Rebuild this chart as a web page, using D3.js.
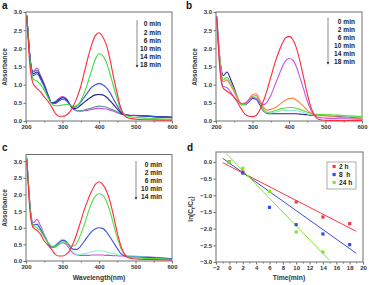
<!DOCTYPE html>
<html>
<head>
<meta charset="utf-8">
<script src="https://cdn.jsdelivr.net/npm/d3@7"></script>
<style>
  body { margin: 0; background: #fff; }
  svg { display: block; font-family: "Liberation Sans", Arial, sans-serif; font-weight: bold; }
</style>
</head>
<body>
<script>
// ---------- data ----------
// wavelength grid (nm) shared by panels a, b, c
const wavelengths = [202, 205, 210, 215, 220, 230, 240, 250, 260, 270, 280, 290, 300, 310, 320, 330, 340, 350, 360, 370, 380, 390, 400, 410, 420, 430, 440, 450, 460, 470, 480, 500, 550, 600];

// panel a
const aLabels = ["0 min", "2 min", "6 min", "10 min", "14 min", "18 min"];
const aColors = ["#ff2a3c", "#3ddc3a", "#3c50e6", "#1c1c8c", "#5f8f96", "#c44ae0"];
const a0 = [2.88, 2.4, 1.6, 1.2, 1.02, 0.9, 0.8, 0.66, 0.55, 0.39, 0.22, 0.13, 0.13, 0.16, 0.25, 0.42, 0.65, 0.95, 1.35, 1.75, 2.1, 2.35, 2.43, 2.32, 2.1, 1.7, 1.2, 0.75, 0.35, 0.15, 0.08, 0.05, 0.03, 0.02];
const a2 = [2.9, 2.5, 1.8, 1.35, 1.15, 1.1, 1.0, 0.85, 0.65, 0.48, 0.42, 0.42, 0.44, 0.46, 0.44, 0.4, 0.42, 0.55, 0.78, 1.08, 1.4, 1.7, 1.85, 1.8, 1.62, 1.3, 0.95, 0.6, 0.3, 0.18, 0.13, 0.1, 0.07, 0.05];
const a6 = [2.9, 2.5, 1.85, 1.4, 1.25, 1.3, 1.15, 0.95, 0.72, 0.5, 0.48, 0.55, 0.6, 0.56, 0.46, 0.38, 0.42, 0.52, 0.66, 0.8, 0.93, 1.0, 1.03, 1.0, 0.92, 0.78, 0.6, 0.42, 0.25, 0.18, 0.16, 0.15, 0.12, 0.09];
const a10 = [2.9, 2.5, 1.85, 1.42, 1.3, 1.35, 1.2, 0.98, 0.72, 0.5, 0.5, 0.58, 0.64, 0.6, 0.46, 0.34, 0.36, 0.44, 0.52, 0.6, 0.67, 0.72, 0.73, 0.72, 0.66, 0.56, 0.45, 0.33, 0.22, 0.17, 0.16, 0.15, 0.12, 0.1];
const a14 = [2.9, 2.5, 1.85, 1.45, 1.35, 1.4, 1.22, 1.0, 0.72, 0.5, 0.52, 0.6, 0.65, 0.6, 0.45, 0.33, 0.28, 0.28, 0.3, 0.33, 0.36, 0.39, 0.41, 0.4, 0.38, 0.34, 0.3, 0.25, 0.2, 0.17, 0.16, 0.15, 0.12, 0.1];
const a18 = [2.9, 2.5, 1.85, 1.45, 1.37, 1.46, 1.25, 1.02, 0.72, 0.5, 0.54, 0.62, 0.67, 0.62, 0.46, 0.33, 0.28, 0.27, 0.28, 0.3, 0.32, 0.34, 0.35, 0.34, 0.33, 0.3, 0.27, 0.23, 0.19, 0.17, 0.16, 0.16, 0.13, 0.11];

// panel b
const bLabels = ["0 min", "2 min", "6 min", "10 min", "14 min", "18 min"];
const bColors = ["#ff2a3c", "#c455f0", "#ff8040", "#5edc3c", "#8ee6cc", "#2c1ea0"];
const b0 = [2.85, 2.3, 1.5, 1.05, 0.9, 0.82, 0.75, 0.65, 0.5, 0.32, 0.18, 0.13, 0.12, 0.15, 0.3, 0.55, 0.85, 1.2, 1.55, 1.85, 2.1, 2.28, 2.33, 2.25, 2.02, 1.65, 1.2, 0.75, 0.38, 0.15, 0.05, 0.02, 0.01, 0.01];
const b2 = [2.85, 2.35, 1.55, 1.1, 0.95, 0.92, 0.8, 0.65, 0.55, 0.48, 0.48, 0.58, 0.65, 0.62, 0.5, 0.45, 0.52, 0.7, 0.95, 1.2, 1.45, 1.65, 1.72, 1.68, 1.5, 1.2, 0.88, 0.55, 0.3, 0.15, 0.1, 0.08, 0.06, 0.05];
const b6 = [2.85, 2.4, 1.7, 1.2, 1.08, 1.12, 0.98, 0.8, 0.6, 0.48, 0.5, 0.6, 0.72, 0.75, 0.58, 0.38, 0.3, 0.32, 0.36, 0.42, 0.5, 0.57, 0.62, 0.63, 0.58, 0.5, 0.4, 0.3, 0.22, 0.17, 0.15, 0.14, 0.1, 0.07];
const b10 = [2.85, 2.4, 1.75, 1.3, 1.15, 1.2, 1.05, 0.85, 0.62, 0.45, 0.47, 0.56, 0.68, 0.7, 0.52, 0.32, 0.24, 0.25, 0.28, 0.31, 0.34, 0.36, 0.37, 0.37, 0.35, 0.32, 0.28, 0.24, 0.21, 0.19, 0.18, 0.18, 0.15, 0.12];
const b14 = [2.85, 2.4, 1.75, 1.3, 1.12, 1.15, 1.02, 0.83, 0.6, 0.45, 0.46, 0.55, 0.65, 0.66, 0.5, 0.3, 0.22, 0.22, 0.24, 0.26, 0.28, 0.29, 0.29, 0.29, 0.28, 0.26, 0.23, 0.2, 0.18, 0.17, 0.17, 0.16, 0.14, 0.1];
const b18 = [2.88, 2.45, 1.8, 1.4, 1.25, 1.35, 1.15, 0.9, 0.62, 0.45, 0.45, 0.53, 0.62, 0.6, 0.45, 0.28, 0.21, 0.2, 0.2, 0.2, 0.2, 0.2, 0.2, 0.2, 0.2, 0.19, 0.18, 0.17, 0.16, 0.16, 0.16, 0.15, 0.11, 0.08];

// panel c
const cLabels = ["0 min", "2 min", "6 min", "10 min", "14 min"];
const cColors = ["#ff2a3c", "#4ee03a", "#3c50e0", "#84f0c8", "#cc48e4"];
const c0 = [3.05, 2.5, 1.6, 1.15, 1.0, 0.92, 0.8, 0.6, 0.48, 0.35, 0.2, 0.15, 0.15, 0.2, 0.32, 0.55, 0.85, 1.2, 1.55, 1.85, 2.1, 2.3, 2.38, 2.3, 2.12, 1.8, 1.35, 0.85, 0.45, 0.2, 0.1, 0.06, 0.04, 0.03];
const c2 = [3.1, 2.6, 1.75, 1.2, 1.05, 1.0, 0.9, 0.72, 0.55, 0.45, 0.42, 0.5, 0.58, 0.55, 0.45, 0.45, 0.55, 0.8, 1.1, 1.45, 1.75, 1.95, 2.02, 1.98, 1.8, 1.5, 1.1, 0.7, 0.38, 0.2, 0.13, 0.1, 0.07, 0.05];
const c6 = [3.1, 2.6, 1.8, 1.25, 1.08, 1.1, 0.95, 0.75, 0.55, 0.42, 0.45, 0.55, 0.62, 0.58, 0.45, 0.35, 0.35, 0.45, 0.6, 0.75, 0.88, 0.97, 1.0, 0.98, 0.88, 0.72, 0.55, 0.38, 0.22, 0.15, 0.13, 0.12, 0.1, 0.07];
const c10 = [3.1, 2.6, 1.8, 1.25, 1.08, 1.12, 0.98, 0.78, 0.56, 0.42, 0.48, 0.58, 0.66, 0.6, 0.42, 0.25, 0.2, 0.2, 0.22, 0.25, 0.28, 0.3, 0.31, 0.3, 0.28, 0.25, 0.22, 0.19, 0.17, 0.16, 0.15, 0.14, 0.1, 0.06];
const c14 = [3.1, 2.6, 1.8, 1.3, 1.15, 1.25, 1.05, 0.8, 0.56, 0.4, 0.42, 0.5, 0.55, 0.5, 0.36, 0.22, 0.18, 0.17, 0.17, 0.17, 0.18, 0.18, 0.18, 0.18, 0.17, 0.17, 0.16, 0.16, 0.15, 0.15, 0.15, 0.14, 0.11, 0.07];

// panel d (kinetics)
const dLabels = ["2 h", "8  h", "24 h"];
const dColors = ["#ff3446", "#3a4ee0", "#7ee33c"];
const dTime2 = [0, 2, 10, 14, 18];
const dVal2 = [0.0, -0.3, -1.2, -1.65, -1.85];
const dTime8 = [0, 2, 6, 10, 14, 18];
const dVal8 = [0.0, -0.33, -1.36, -1.88, -2.16, -2.48];
const dTime24 = [0, 2, 6, 10, 14];
const dVal24 = [0.0, -0.19, -0.88, -2.1, -2.7];
// fitted line ends
const dFitT2 = [-1, 19], dFitV2 = [-0.02, -2.08];
const dFitT8 = [-1, 19], dFitV8 = [0.11, -2.74];
const dFitT24 = [-0.5, 15], dFitV24 = [0.26, -2.95];
// ----------

const W = 369, H = 285;
const axisCol = "#707070";
const textCol = "#333";

const svg = d3.select("body").append("svg").attr("width", W).attr("height", H);

// generic framed panel
let clipId = 0;
const makePanel = (o) => {
  const x = d3.scaleLinear().domain(o.xDomain).range([o.box.l, o.box.r]);
  const y = d3.scaleLinear().domain(o.yDomain).range([o.box.b, o.box.t]);
  const g = svg.append("g");

  // minor ticks
  if (o.xMinor) {
    g.append("g").attr("transform", `translate(0,${o.box.b})`)
      .call(d3.axisBottom(x).tickValues(o.xMinor).tickSize(1.5).tickFormat(""))
      .call((s) => s.select(".domain").remove())
      .call((s) => s.selectAll("line").attr("stroke", axisCol));
  }
  const xa = g.append("g").attr("transform", `translate(0,${o.box.b})`)
    .call(d3.axisBottom(x).tickValues(o.xTicks).tickSize(2.5).tickPadding(1.5).tickFormat(o.xFormat));
  const ya = g.append("g").attr("transform", `translate(${o.box.l},0)`)
    .call(d3.axisLeft(y).tickValues(o.yTicks).tickSize(2.5).tickPadding(1.5).tickFormat(o.yFormat));
  [xa, ya].forEach((a) => {
    a.select(".domain").remove();
    a.selectAll("line").attr("stroke", axisCol);
    a.selectAll("text").attr("font-size", 6).attr("fill", textCol).attr("font-family", null);
  });

  // frame
  g.append("rect")
    .attr("x", o.box.l).attr("y", o.box.t)
    .attr("width", o.box.r - o.box.l).attr("height", o.box.b - o.box.t)
    .attr("fill", "none").attr("stroke", axisCol).attr("stroke-width", 1);

  // clip for data
  clipId += 1;
  svg.append("clipPath").attr("id", `clip${clipId}`)
    .append("rect")
    .attr("x", o.box.l).attr("y", o.box.t)
    .attr("width", o.box.r - o.box.l).attr("height", o.box.b - o.box.t);
  const plot = g.append("g").attr("clip-path", `url(#clip${clipId})`);

  // panel letter
  svg.append("text").text(o.letter)
    .attr("x", o.letterPos[0]).attr("y", o.letterPos[1])
    .attr("font-size", 10).attr("fill", "#111");

  return { x, y, g, plot };
};

const yTitle = (x, y, txt) => {
  svg.append("text")
    .attr("transform", `translate(${x},${y}) rotate(-90)`)
    .attr("text-anchor", "middle")
    .attr("font-size", 6.5)
    .attr("fill", textCol)
    .text(txt);
};

const xTitle = (x, y, txt) => {
  svg.append("text")
    .attr("x", x).attr("y", y)
    .attr("text-anchor", "middle")
    .attr("font-size", 6.8)
    .attr("fill", textCol)
    .text(txt);
};

// spectra panel
const specPanel = (o, series, colors, labels, leg) => {
  const p = makePanel(o);
  const line = d3.line()
    .x((d) => p.x(d[0]))
    .y((d) => p.y(d[1]))
    .curve(d3.curveMonotoneX);

  // draw last series first so red (0 min) stays on top
  series.slice().reverse().forEach((s, k) => {
    const i = series.length - 1 - k;
    p.plot.append("path")
      .datum(wavelengths.map((w, j) => [w, s[j]]))
      .attr("d", line)
      .attr("fill", "none")
      .attr("stroke", colors[i])
      .attr("stroke-width", 1.1);
  });

  // legend: arrow + labels
  const lg = svg.append("g");
  const yLast = leg.y0 + leg.dy * (labels.length - 1);
  lg.append("line")
    .attr("x1", leg.ax).attr("x2", leg.ax)
    .attr("y1", leg.y0 - 4).attr("y2", yLast + 2)
    .attr("stroke", "#8a8a8a").attr("stroke-width", 1);
  lg.append("path")
    .attr("d", `M${leg.ax - 1.3},${yLast} L${leg.ax + 1.3},${yLast} L${leg.ax},${yLast + 2.8}Z`)
    .attr("fill", "#333");
  lg.selectAll("text")
    .data(labels)
    .enter()
    .append("text")
    .text((d) => d)
    .attr("x", leg.tx)
    .attr("y", (d, i) => leg.y0 + i * leg.dy)
    .attr("dy", "0.35em")
    .attr("text-anchor", "end")
    .attr("font-size", 6.6)
    .attr("fill", "#222");
  return p;
};

const wlTicks = [200, 300, 400, 500, 600];
const wlMinor = [250, 350, 450, 550];
const fmtInt = d3.format("d");
const fmt1 = d3.format(".1f");

// ---------- panel a ----------
specPanel(
  { box: { l: 26, r: 172, t: 12, b: 121 }, xDomain: [200, 600], yDomain: [0, 3],
    xTicks: wlTicks, xMinor: wlMinor, yTicks: d3.range(0, 3.01, 0.5),
    xFormat: fmtInt, yFormat: fmt1, letter: "a", letterPos: [2, 9] },
  [a0, a2, a6, a10, a14, a18], aColors, aLabels,
  { ax: 137, tx: 161, y0: 24, dy: 8.2 }
);
yTitle(7, 67, "Absorbance");

// ---------- panel b ----------
specPanel(
  { box: { l: 216, r: 362, t: 12, b: 121 }, xDomain: [200, 600], yDomain: [0, 3],
    xTicks: wlTicks, xMinor: wlMinor, yTicks: d3.range(0, 3.01, 0.5),
    xFormat: fmtInt, yFormat: fmt1, letter: "b", letterPos: [186, 9] },
  [b0, b2, b6, b10, b14, b18], bColors, bLabels,
  { ax: 328, tx: 355, y0: 21.5, dy: 8.1 }
);
yTitle(197, 67, "Absorbance");

// ---------- panel c ----------
specPanel(
  { box: { l: 26, r: 172, t: 154.5, b: 261 }, xDomain: [200, 600], yDomain: [0, 3.2],
    xTicks: wlTicks, xMinor: wlMinor, yTicks: d3.range(0, 3.01, 0.5),
    xFormat: fmtInt, yFormat: fmt1, letter: "c", letterPos: [2, 151] },
  [c0, c2, c6, c10, c14], cColors, cLabels,
  { ax: 136, tx: 162, y0: 165, dy: 8 }
);
yTitle(7, 208, "Absorbance");
xTitle(99, 280, "Wavelength(nm)");

// ---------- panel d ----------
const pd = makePanel({
  box: { l: 216, r: 363, t: 152, b: 262 }, xDomain: [-2, 20], yDomain: [-3, 0.3],
  xTicks: d3.range(-2, 20.01, 2), xMinor: d3.range(-1, 20, 2), yTicks: d3.range(-3, 0.01, 0.5),
  xFormat: fmtInt, yFormat: fmt1, letter: "d", letterPos: [187, 151],
});

const fits = [[dFitT2, dFitV2], [dFitT8, dFitV8], [dFitT24, dFitV24]];
const pts = [[dTime2, dVal2], [dTime8, dVal8], [dTime24, dVal24]];

fits.forEach((f, i) => {
  pd.plot.append("line")
    .attr("x1", pd.x(f[0][0])).attr("y1", pd.y(f[1][0]))
    .attr("x2", pd.x(f[0][1])).attr("y2", pd.y(f[1][1]))
    .attr("stroke", dColors[i]).attr("stroke-width", 1);
});

pts.forEach((p, i) => {
  pd.plot.append("g")
    .selectAll("rect")
    .data(p[0].map((t, j) => [t, p[1][j]]))
    .enter()
    .append("rect")
    .attr("x", (d) => pd.x(d[0]) - 1.6)
    .attr("y", (d) => pd.y(d[1]) - 1.6)
    .attr("width", 3.2).attr("height", 3.2)
    .attr("fill", dColors[i]);
});

// legend d
const legD = svg.append("g");
legD.append("rect")
  .attr("x", 327).attr("y", 162).attr("width", 29).attr("height", 27)
  .attr("fill", "#fff").attr("stroke", "#9a9a9a").attr("stroke-width", 0.8);
dLabels.forEach((lab, i) => {
  const yy = 166.5 + i * 8;
  legD.append("rect")
    .attr("x", 332.5).attr("y", yy - 1.6).attr("width", 3.2).attr("height", 3.2)
    .attr("fill", dColors[i]);
  legD.append("text").text(lab)
    .attr("x", 339).attr("y", yy).attr("dy", "0.35em")
    .attr("font-size", 6.6).attr("fill", "#222")
    .attr("xml:space", "preserve");
});

// axis titles d
const lnT = svg.append("text")
  .attr("transform", "translate(193,209) rotate(-90)")
  .attr("text-anchor", "middle")
  .attr("font-size", 6.5)
  .attr("fill", textCol);
lnT.append("tspan").text("ln(C");
lnT.append("tspan").text("t").attr("font-size", 4.5).attr("dy", 1.5);
lnT.append("tspan").text("/C").attr("dy", -1.5);
lnT.append("tspan").text("0").attr("font-size", 4.5).attr("dy", 1.5);
lnT.append("tspan").text(")").attr("dy", -1.5);
xTitle(289, 280, "Time(min)");
</script>
</body>
</html>
